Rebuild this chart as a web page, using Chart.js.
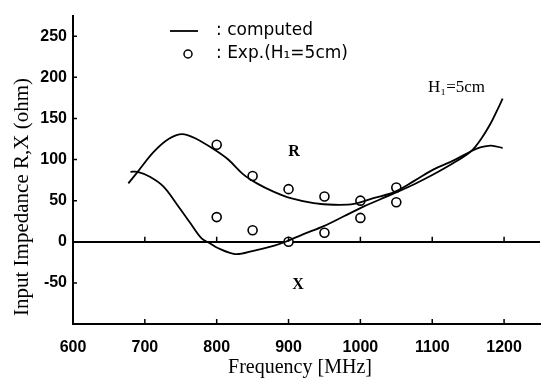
<!DOCTYPE html>
<html>
<head>
<meta charset="utf-8">
<script src="https://cdn.jsdelivr.net/npm/chart.js@4/dist/chart.umd.min.js"></script>
<style>
  html, body { margin: 0; padding: 0; background: #fff; }
  #wrap { width: 554px; height: 381px; }
</style>
</head>
<body>
<div id="wrap"><canvas id="impChart" width="554" height="381"></canvas></div>
<script>
// computed curves
const rFreq = [677, 690, 712, 733, 752, 772, 795, 816, 837, 856, 879, 903, 935, 963, 991, 1018, 1046, 1075, 1102, 1130, 1154, 1168, 1182, 1198];
const rVals = [71, 85, 109, 125, 131, 125, 113, 100, 82, 71, 61, 53, 47, 45, 46, 53, 60, 74, 88, 99, 110, 115, 117, 114];
const xFreq = [680, 690, 707, 726, 745, 763, 779, 791, 800, 826, 851, 879, 896, 920, 949, 977, 1005, 1042, 1075, 1102, 1130, 1154, 1168, 1182, 1191, 1198];
const xVals = [85, 85, 79, 67, 45, 23, 4, -2, -7, -15, -11, -5, 0, 9, 19, 31, 43, 57, 70, 82, 96, 110, 125, 145, 161, 174];

// measured points
const expFreq = [800, 850, 900, 950, 1000, 1050];
const expR    = [118, 80, 64, 55, 50, 66];
const expX    = [30, 14, 0, 11, 29, 48];

const xTicks = [600, 700, 800, 900, 1000, 1100, 1200];
const yTicks = [-50, 0, 50, 100, 150, 200, 250];

const pts = (xs, ys) => xs.map((x, i) => ({ x, y: ys[i] }));

const tickFont = { family: 'Liberation Sans, Arial, sans-serif', size: 16, weight: 'bold' };

const annotate = {
    id: 'annotate',
    afterDraw(chart) {
        const { ctx, scales: { x, y }, chartArea: a } = chart;
        ctx.save();
        ctx.strokeStyle = '#000';
        ctx.lineWidth = 1.5;
        // small inward ticks on axes and on the zero line
        ctx.beginPath();
        xTicks.slice(1).forEach(v => {
            const px = x.getPixelForValue(v);
            ctx.moveTo(px, a.bottom); ctx.lineTo(px, a.bottom - 5);
            ctx.moveTo(px, y.getPixelForValue(0)); ctx.lineTo(px, y.getPixelForValue(0) - 5);
        });
        yTicks.forEach(v => {
            const py = y.getPixelForValue(v);
            ctx.moveTo(a.left, py); ctx.lineTo(a.left + 4, py);
        });
        ctx.stroke();

        // legend
        ctx.fillStyle = '#000';
        ctx.lineWidth = 1.8;
        ctx.beginPath(); ctx.moveTo(170, 31); ctx.lineTo(198, 31); ctx.stroke();
        ctx.lineWidth = 1.5;
        ctx.beginPath(); ctx.arc(188, 54, 4, 0, Math.PI * 2); ctx.stroke();
        ctx.font = '17px "DejaVu Sans", sans-serif';
        ctx.textBaseline = 'middle';
        ctx.textAlign = 'left';
        ctx.fillText(': computed', 216, 31);
        ctx.fillText(': Exp.(H\u2081=5cm)', 216, 54);

        // curve labels
        ctx.font = '17px "Liberation Serif", serif';
        ctx.fillText('H\u2081=5cm', 428, 88);
        ctx.font = 'bold 16px "Liberation Serif", serif';
        ctx.textAlign = 'center';
        ctx.fillText('R', 294, 152);
        ctx.fillText('X', 298, 285);

        // axis titles
        ctx.font = '20px "Liberation Serif", serif';
        ctx.fillText('Frequency [MHz]', 300, 368);
        ctx.translate(22, 197);
        ctx.rotate(-Math.PI / 2);
        ctx.font = '21px "Liberation Serif", serif';
        ctx.fillText('Input Impedance R,X (ohm)', 0, 0);
        ctx.restore();
    }
};

new Chart(document.getElementById('impChart').getContext('2d'), {
    type: 'line',
    data: {
        datasets: [
            { label: 'R computed', data: pts(rFreq, rVals), borderColor: '#000', borderWidth: 1.8, pointRadius: 0, tension: 0.35, fill: false },
            { label: 'X computed', data: pts(xFreq, xVals), borderColor: '#000', borderWidth: 1.8, pointRadius: 0, tension: 0.35, fill: false },
            { label: 'R exp', type: 'scatter', data: pts(expFreq, expR), pointStyle: 'circle', pointRadius: 4.5, pointBorderWidth: 1.6, pointBorderColor: '#000', pointBackgroundColor: '#fff', showLine: false },
            { label: 'X exp', type: 'scatter', data: pts(expFreq, expX), pointStyle: 'circle', pointRadius: 4.5, pointBorderWidth: 1.6, pointBorderColor: '#000', pointBackgroundColor: '#fff', showLine: false }
        ]
    },
    options: {
        responsive: false, animation: false,
        layout: { padding: { top: 12, right: 14, left: 0, bottom: 0 } },
        plugins: { legend: { display: false }, tooltip: { enabled: false } },
        scales: {
            x: {
                type: 'linear', min: 600, max: 1250,
                afterBuildTicks: s => { s.ticks = xTicks.map(v => ({ value: v })); },
                afterFit: s => { s.height = 57; },
                grid: { display: false },
                border: { display: true, color: '#000', width: 2 },
                ticks: { color: '#000', font: tickFont, padding: 6, maxRotation: 0, autoSkip: false,
                         callback: v => String(v) }
            },
            y: {
                min: -100, max: 275,
                afterFit: s => { s.width = 73; },
                grid: { drawTicks: false, lineWidth: 2, color: c => (c.tick && c.tick.value === 0) ? '#000' : 'rgba(0,0,0,0)' },
                border: { display: true, color: '#000', width: 2 },
                ticks: { stepSize: 50, color: '#000', font: tickFont, padding: 6, autoSkip: false,
                         callback: v => yTicks.includes(v) ? String(v) : '' }
            }
        }
    },
    plugins: [annotate]
});
</script>
</body>
</html>
